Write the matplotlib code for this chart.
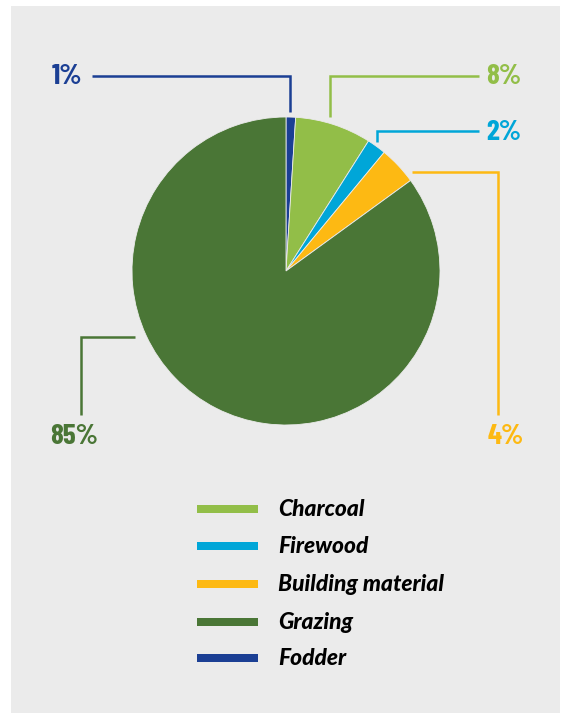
import matplotlib.pyplot as plt
from matplotlib.patches import Rectangle

# Data
categories = ['Charcoal', 'Firewood', 'Building material', 'Grazing', 'Fodder']
shares = [8, 2, 4, 85, 1]
colors = ['#92BE48', '#00A6D8', '#FDB913', '#4A7636', '#1B3F94']
pie_order = [4, 0, 1, 2, 3]   # clockwise from 12 o'clock

W, H = 567, 713

def Y(py):
    # image pixel row -> data y
    return H - py

fig = plt.figure(figsize=(W / 100, H / 100), dpi=100)
ax = fig.add_axes([0, 0, 1, 1])

# grey panel
ax.add_patch(Rectangle((11, 0), 549, Y(6), facecolor='#EBEBEB', edgecolor='none', zorder=0))

ax.pie([shares[i] for i in pie_order],
       colors=[colors[i] for i in pie_order],
       startangle=90, counterclock=False,
       center=(286, Y(271)), radius=154,
       wedgeprops=dict(linewidth=0.6, edgecolor='#EBEBEB'),
       frame=True)
ax.set_xlim(0, W)
ax.set_ylim(0, H)
ax.set_aspect('equal')
ax.axis('off')

# leader lines and labels: (path in pixel coords, label position)
pct_font = dict(family=['Barlow Condensed', 'DejaVu Sans'], fontweight=700, fontsize=21)
leaders = {
    'Fodder': ([(290, 112), (290, 76), (92, 76)], (52, 77)),
    'Charcoal': ([(330, 117), (330, 76), (479, 76)], (486, 77)),
    'Firewood': ([(377, 142), (377, 131), (479, 131)], (486, 132)),
    'Building material': ([(412, 172), (498, 172), (498, 415)], (488, 436)),
    'Grazing': ([(135, 337), (81, 337), (81, 415)], (50, 436)),
}
for i, name in enumerate(categories):
    path, (tx, ty) = leaders[name]
    ax.plot([p[0] for p in path], [Y(p[1]) for p in path], color=colors[i],
            linewidth=1.8, solid_joinstyle='miter', solid_capstyle='butt', zorder=3)
    ax.text(tx, Y(ty), '%d%%' % shares[i], color=colors[i], ha='left', va='center', **pct_font)

# legend
leg_y = [509, 546, 584, 622, 658]
for i, name in enumerate(categories):
    ax.add_patch(Rectangle((197, Y(leg_y[i] + 4)), 61, 8, facecolor=colors[i], edgecolor='none'))
    ax.text(278, Y(leg_y[i] + 7), name, color='black', ha='left', va='baseline',
            family=['Lato', 'DejaVu Sans'], fontweight=900, fontstyle='italic', fontsize=16.4)

fig.savefig('out.png', dpi=100, facecolor='white')
